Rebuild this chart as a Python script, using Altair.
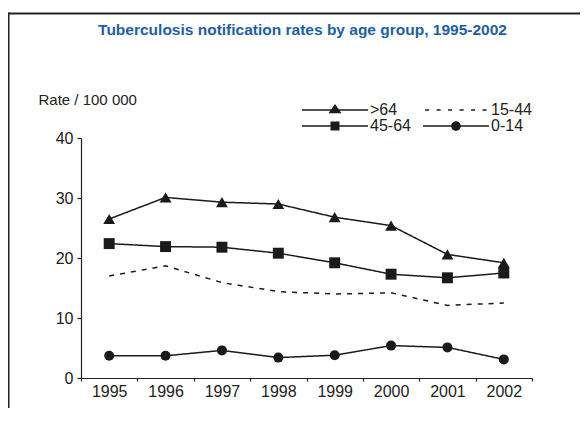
import altair as alt
import pandas as pd

# ---- data ----
years = ["1995", "1996", "1997", "1998", "1999", "2000", "2001", "2002"]
series_names = [">64", "45-64", "15-44", "0-14"]
rate_gt64 = [26.5, 30.1, 29.3, 29.0, 26.8, 25.4, 20.6, 19.2]
rate_45_64 = [22.4, 21.9, 21.8, 20.8, 19.2, 17.3, 16.7, 17.5]
rate_15_44 = [17.0, 18.7, 15.9, 14.4, 14.0, 14.2, 12.1, 12.5]
rate_0_14 = [3.7, 3.7, 4.6, 3.4, 3.8, 5.4, 5.1, 3.1]
y_ticks = [0, 10, 20, 30, 40]
legend_order = [">64", "45-64", "15-44", "0-14"]
title_text = "Tuberculosis notification rates by age group, 1995-2002"
y_title = "Rate / 100 000"

rows = []
for name, vals in zip(series_names, [rate_gt64, rate_45_64, rate_15_44, rate_0_14]):
    for yr, v in zip(years, vals):
        rows.append({"year": yr, "rate": v, "series": name, "legend_series": name})
df = pd.DataFrame(rows)

INK = "#1a1a1a"
FONT = "Liberation Sans"

# legend symbols: line + marker as custom unit paths
LINE = "M-1,-0.021H1V0.021H-1Z"
TRI = LINE + "M0,-0.18L0.197,0.1L-0.197,0.1Z"
SQ = LINE + "M-0.136,-0.136H0.136V0.136H-0.136Z"
CIRC = LINE + "M0.145,0A0.145,0.145,0,1,1,-0.145,0A0.145,0.145,0,1,1,0.145,0Z"
dash_starts = [-0.935, -0.587, -0.239, 0.109, 0.457, 0.805]
DASH = "".join(f"M{s:.3f},-0.02H{s + 0.121:.3f}V0.02H{s:.3f}Z" for s in dash_starts)
legend_paths = [TRI, SQ, DASH, CIRC]

x_enc = alt.X(
    "year:O",
    bandPosition=0.5,
    scale=alt.Scale(type="band", paddingInner=0, paddingOuter=0),
    axis=alt.Axis(title=None, labelAngle=0, tickBand="extent", tickSize=3,
                  labelPadding=2),
)
y_enc = alt.Y(
    "rate:Q",
    scale=alt.Scale(domain=[0, 40], nice=False),
    axis=alt.Axis(values=y_ticks, title=y_title, titleAngle=0, titleX=-43,
                  titleY=-34, titleAlign="left", titleBaseline="alphabetic",
                  titleFont=FONT, titleFontSize=15, titleFontWeight="normal",
                  titleColor="#222", tickSize=4, labelPadding=4, grid=False),
)

base = alt.Chart(df)

lines = base.mark_line(color=INK, strokeWidth=1.5).encode(
    x=x_enc, y=y_enc, detail="series:N",
    strokeDash=alt.StrokeDash("series:N",
                              scale=alt.Scale(domain=series_names,
                                              range=[[1, 0], [1, 0], [5, 6], [1, 0]]),
                              legend=None),
)

marker_series = [">64", "45-64", "0-14"]
points = base.transform_filter(
    alt.FieldOneOfPredicate(field="series", oneOf=marker_series)
).mark_point(filled=True, color=INK, opacity=1).encode(
    x=x_enc, y=y_enc,
    shape=alt.Shape("series:N",
                    scale=alt.Scale(domain=marker_series,
                                    range=["triangle-up", "square", "circle"]),
                    legend=None),
    size=alt.Size("series:N",
                  scale=alt.Scale(domain=marker_series, range=[140, 100, 72]),
                  legend=None),
)

legend_layer = base.mark_point(filled=True, color=INK, opacity=0).encode(
    x=x_enc, y=y_enc,
    shape=alt.Shape("legend_series:N",
                    scale=alt.Scale(domain=legend_order, range=legend_paths),
                    legend=alt.Legend(title=None, orient="none", legendX=221,
                                      legendY=-35, columns=2, symbolSize=4356,
                                      clipHeight=14,
                                      symbolFillColor=INK, symbolStrokeColor=INK,
                                      symbolStrokeWidth=0, symbolOpacity=1,
                                      labelFont=FONT, labelFontSize=16,
                                      labelColor="#222", labelOffset=2,
                                      columnPadding=12, rowPadding=0,
                                      padding=0, symbolOffset=0)),
)

frame_df = pd.DataFrame({"k": [0]})
top_rule = alt.Chart(frame_df).mark_rule(color="#222", strokeWidth=2).encode(
    x=alt.value(-73), x2=alt.value(510), y=alt.value(-124.5))
left_rule = alt.Chart(frame_df).mark_rule(color="#222", strokeWidth=2).encode(
    x=alt.value(-72.5), y=alt.value(-125.5), y2=alt.value(290))

chart = alt.layer(top_rule, left_rule, lines, points, legend_layer).resolve_scale(
    shape="independent"
).properties(
    width=451, height=240,
    padding={"left": 73, "top": 130, "right": 48, "bottom": 30},
    autosize=alt.AutoSizeParams(type="none"),
    title=alt.Title(title_text, font=FONT, fontSize=15.5, fontWeight="bold",
                    color="#1d5ea6", anchor="middle", frame="group",
                    offset=-38.5, dx=-4, baseline="alphabetic"),
).configure_view(stroke=None).configure_axis(
    domainColor="#222", tickColor="#222", labelColor="#222", labelFont=FONT,
    labelFontSize=16, domainWidth=1.2, tickWidth=1.2,
)

chart.save("out.html", embed_options={"renderer": "svg", "actions": False})
